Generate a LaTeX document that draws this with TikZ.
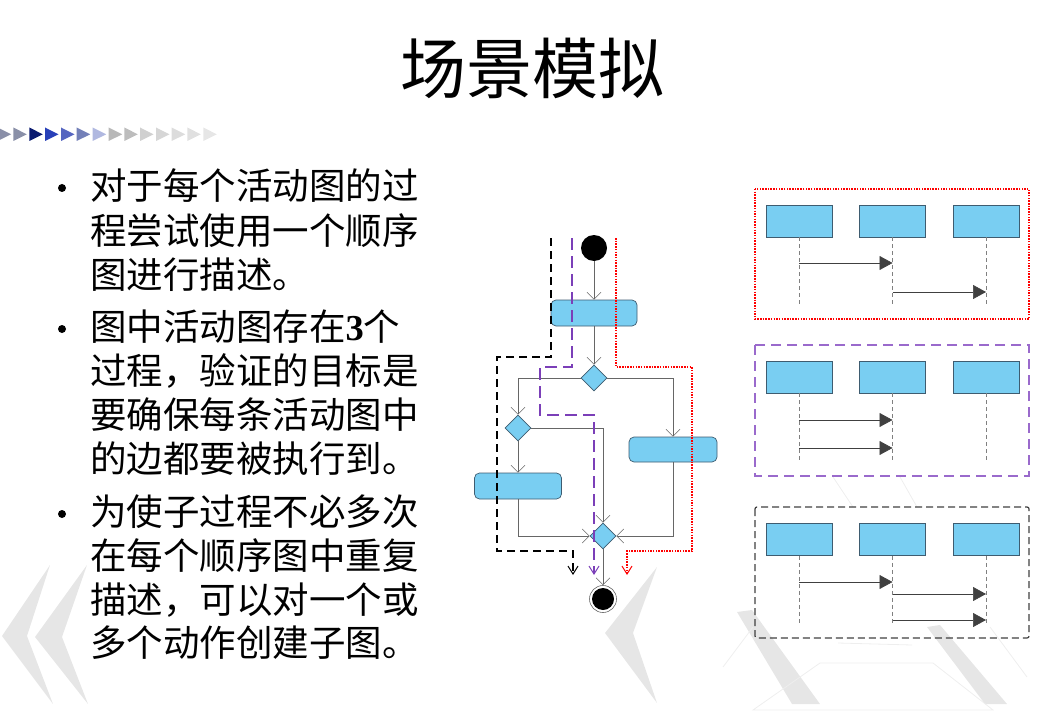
\documentclass[tikz,border=0pt]{standalone}
\usepackage{fontspec}
\newfontfamily\cjk{Noto Sans CJK SC}
\newfontfamily\tnr{Liberation Serif}
\usetikzlibrary{arrows.meta,shapes.geometric}
\definecolor{boxfill}{HTML}{79CEF2}
\definecolor{boxline}{HTML}{3E5C70}
\definecolor{edgegray}{HTML}{666666}
\definecolor{pathpurple}{HTML}{7B3FB8}
\definecolor{framepurple}{HTML}{9A6ACC}
\definecolor{decogray}{HTML}{E6E6E6}
\definecolor{decolight}{HTML}{EEEEEE}
\begin{document}
\begin{tikzpicture}[x=1pt,y=-1pt,
  txt/.style={anchor=west,inner sep=0pt,font=\cjk\fontsize{36.5}{40}\selectfont},
  chev/.style={fill=decogray},
  decoline/.style={draw=decolight,line width=0.8pt},
  action/.style={draw=boxline,fill=boxfill,rounded corners=5pt,inner sep=0pt,line width=0.7pt},
  choice/.style={diamond,draw=boxline,fill=boxfill,inner sep=0pt,minimum width=26pt,minimum height=26pt,line width=0.7pt},
  flow/.style={draw=edgegray,line width=0.8pt,-{Straight Barb[length=7pt,width=14pt,line width=0.6pt]}},
  pathtip/.style={-{Straight Barb[length=8pt,width=10pt,line width=1pt]}},
  pblack/.style={pathtip,draw=black,line width=1.1pt,dash pattern=on 8pt off 5pt},
  ppurple/.style={pathtip,draw=pathpurple,line width=1.1pt,dash pattern=on 12pt off 6pt},
  pred/.style={pathtip,draw=red,line width=1.2pt,dash pattern=on 1.5pt off 1.2pt},
  lifebox/.style={draw=boxline,fill=boxfill,inner sep=0pt,minimum width=66pt,minimum height=32pt,line width=0.7pt},
  lifeline/.style={draw=gray,line width=0.6pt,dash pattern=on 4pt off 3pt},
  msg/.style={draw=black!75,line width=0.7pt,-{Triangle[length=13pt,width=14pt]}},
  redframe/.style={draw=red,line width=1.2pt,dash pattern=on 1.5pt off 1.2pt},
  purpleframe/.style={draw=framepurple,line width=1.5pt,dash pattern=on 10pt off 6pt},
  blackframe/.style={draw=black!75,line width=1.2pt,dash pattern=on 7pt off 4pt,rounded corners=2pt}
]
\useasboundingbox (0,0) rectangle (1064,719);

% faint background ornaments
\fill[chev] (50,565) -- (2,636) -- (53,704) -- (27,636) -- cycle;
\fill[chev] (87,565) -- (35,637) -- (88,704) -- (62,637) -- cycle;
\fill[chev] (657,567) -- (605,633) -- (657,703) -- (633,633) -- cycle;
\fill[chev] (737,612) -- (752,610) -- (820,704) -- (792,704) -- cycle;
\fill[chev] (927,627) -- (940,625) -- (1007,704) -- (985,704) -- cycle;
\draw[decoline] (753,710) -- (820,663) -- (933,663) -- (993,710) -- cycle;
\draw[decoline] (723,667) -- (753,627);
\draw[decoline] (838,643) -- (912,645);
\draw[decoline] (833,477) -- (853,507);
\draw[decoline] (900,477) -- (917,507);
\draw[decoline] (990,627) -- (1027,677);

% arrow strip under the title
\foreach \x/\c in {-2.4/8A8FA8,13.3/8A90A8,29.3/0A1A70,45/2840B8,61/5565C0,76.7/7380B8,92.7/B0B8E0,108.7/B8B8B8,124.3/BDBDBD,140/D0D0D0,156/D6D6D6,171.7/DCDCDC,187.3/E0E0E0,203.3/E6E6E6}{
  \definecolor{tri}{HTML}{\c}
  \fill[tri] (\x,127.5) -- (\x+13.5,134.3) -- (\x,141) -- cycle;
}

% title
\node[font=\cjk\fontsize{66}{72}\selectfont,inner sep=0pt] (title) at (532,68) {场景模拟};

% bullet list
\foreach \y in {188,329,514}{\fill (62,\y) circle[radius=4pt];}
\node[txt] (l1) at (90,186) {对于每个活动图的过};
\node[txt] (l2) at (90,231) {程尝试使用一个顺序};
\node[txt] (l3) at (90,275) {图进行描述。};
\node[txt] (l4) at (90,327) {图中活动图存在{\tnr\bfseries 3}个};
\node[txt] (l5) at (90,371) {过程，验证的目标是};
\node[txt] (l6) at (90,415) {要确保每条活动图中};
\node[txt] (l7) at (90,459) {的边都要被执行到。};
\node[txt] (l8) at (90,512) {为使子过程不必多次};
\node[txt] (l9) at (90,556) {在每个顺序图中重复};
\node[txt] (l10) at (90,600) {描述，可以对一个或};
\node[txt] (l11) at (90,643) {多个动作创建子图。};

% activity diagram
\node[circle,fill=black,inner sep=0pt,minimum size=26pt] (start) at (594,248) {};
\node[action,minimum width=86pt,minimum height=26pt] (a1) at (594,313) {};
\node[choice] (d1) at (594,378) {};
\node[choice] (d2) at (518,428) {};
\node[action,minimum width=87pt,minimum height=26pt] (a2) at (518,486) {};
\node[action,minimum width=88pt,minimum height=25pt] (a3) at (673,449.5) {};
\node[choice] (merge) at (603,536) {};
\node[circle,draw=edgegray,fill=white,line width=0.6pt,inner sep=0pt,minimum size=27pt] (final) at (603,599) {};
\fill (final.center) circle[radius=11pt];

\draw[flow] (start) -- (a1);
\draw[flow] (a1) -- (d1);
\draw[flow] (d1.west) -| (d2.north);
\draw[flow] (d1.east) -| (a3.north);
\draw[flow] (d2.south) -- (a2.north);
\draw[flow] (d2.east) -| (merge.north);
\draw[flow] (a2.south) |- (merge.west);
\draw[flow] (a3.south) |- (merge.east);
\draw[flow] (merge.south) -- (final.north);

% three covering paths through the activity diagram
\coordinate (pb0) at (551,238);
\coordinate (pb1) at (573,575);
\coordinate (pp0) at (572,238);
\coordinate (pp1) at (594,575);
\coordinate (pr0) at (616,238);
\coordinate (pr1) at (627,575);
\draw[pblack] (pb0) -- (551,357) -- (497,357) -- (497,551) -- (573,551) -- (pb1);
\draw[ppurple] (pp0) -- (572,367) -- (540,367) -- (540,415) -- (594,415) -- (pp1);
\draw[pred] (pr0) -- (616,367) -- (692,367) -- (692,551) -- (627,551) -- (pr1);

% sequence diagram 1 (red frame)
\draw[redframe] (755,189) rectangle (1029,319);
\node[lifebox] (s1a) at (799,221) {};
\node[lifebox] (s1b) at (892.5,221) {};
\node[lifebox] (s1c) at (986,221) {};
\coordinate (e1a) at (799,307);
\coordinate (e1b) at (892.5,307);
\coordinate (e1c) at (986,307);
\draw[lifeline] (s1a.south) -- (e1a);
\draw[lifeline] (s1b.south) -- (e1b);
\draw[lifeline] (s1c.south) -- (e1c);
\draw[msg] (799,263) -- (892.5,263);
\draw[msg] (892.5,292) -- (986,292);

% sequence diagram 2 (purple frame)
\draw[purpleframe] (755,345) rectangle (1029,476);
\node[lifebox] (s2a) at (799,377) {};
\node[lifebox] (s2b) at (892.5,377) {};
\node[lifebox] (s2c) at (986,377) {};
\coordinate (e2a) at (799,463);
\coordinate (e2b) at (892.5,463);
\coordinate (e2c) at (986,463);
\draw[lifeline] (s2a.south) -- (e2a);
\draw[lifeline] (s2b.south) -- (e2b);
\draw[lifeline] (s2c.south) -- (e2c);
\draw[msg] (799,420) -- (892.5,420);
\draw[msg] (799,448) -- (892.5,448);

% sequence diagram 3 (black frame)
\draw[blackframe] (755,507) rectangle (1029,638);
\node[lifebox] (s3a) at (799,539.5) {};
\node[lifebox] (s3b) at (892.5,539.5) {};
\node[lifebox] (s3c) at (986,539.5) {};
\coordinate (e3a) at (799,624);
\coordinate (e3b) at (892.5,624);
\coordinate (e3c) at (986,624);
\draw[lifeline] (s3a.south) -- (e3a);
\draw[lifeline] (s3b.south) -- (e3b);
\draw[lifeline] (s3c.south) -- (e3c);
\draw[msg] (799,582) -- (892.5,582);
\draw[msg] (892.5,594) -- (986,594);
\draw[msg] (892.5,620) -- (986,620);
\end{tikzpicture}
\end{document}
